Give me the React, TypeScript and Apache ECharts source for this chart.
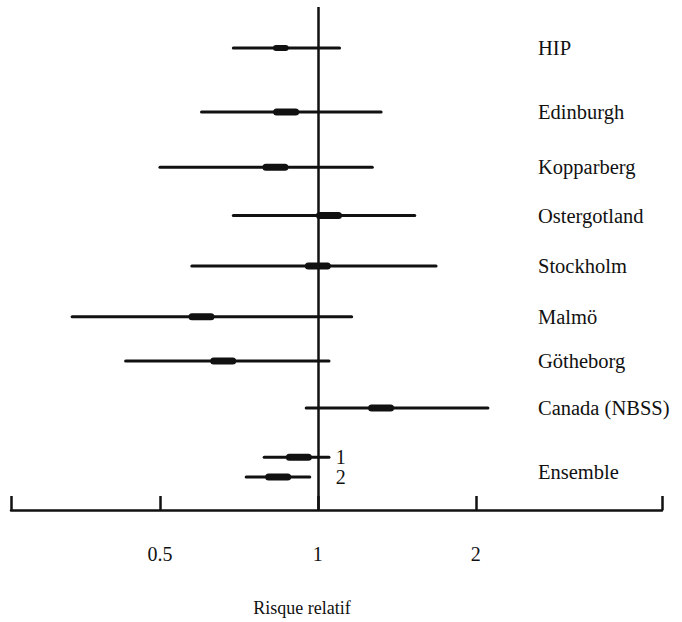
import React, { useEffect, useRef } from "react";
import * as echarts from "echarts";

// ---- data ----
const studies = ["HIP", "Edinburgh", "Kopparberg", "Ostergotland", "Stockholm", "Malmö", "Götheborg", "Canada (NBSS)"];
const studyRR = [0.85, 0.87, 0.83, 1.05, 1.0, 0.6, 0.66, 1.32];
const studyLower = [0.69, 0.6, 0.5, 0.69, 0.575, 0.34, 0.43, 0.95];
const studyUpper = [1.1, 1.32, 1.27, 1.53, 1.68, 1.16, 1.05, 2.11];
const studyWeight = [0.6, 1, 1, 1, 1, 1, 1, 1];

const pooledName = "Ensemble";
const pooledTags = ["1", "2"];
const pooledRR = [0.92, 0.84];
const pooledLower = [0.79, 0.73];
const pooledUpper = [1.05, 0.965];

const tickValues = [0.5, 1, 2];
const axisEnds = [0.26, 4.53];
const axisTitle = "Risque relatif";

// row slots (vertical order of rows)
const studySlot = [-0.3, 1, 2.12, 3.1, 4.12, 5.15, 6.05, 7];
const pooledSlot = [8.0, 8.4];
const pooledLabelSlot = 8.3;

const FONT = "Liberation Serif, Times New Roman, serif";
const INK = "#111";

export default function App() {
  const ref = useRef<HTMLDivElement>(null);
  useEffect(() => {
    if (!ref.current) return;
    const chart = echarts.init(ref.current, undefined, { renderer: "svg" });
    const lg = (v: number) => Math.log2(v);

    const rows: any[] = [];
    const tags: string[] = [];
    const weights: number[] = [];
    studies.forEach((_, i) => {
      rows.push([lg(studyLower[i]), lg(studyUpper[i]), lg(studyRR[i]), studySlot[i]]);
      tags.push("");
      weights.push(studyWeight[i]);
    });
    pooledTags.forEach((t, i) => {
      rows.push([lg(pooledLower[i]), lg(pooledUpper[i]), lg(pooledRR[i]), pooledSlot[i]]);
      tags.push(t);
      weights.push(1);
    });

    const labelSlots = [...studySlot, pooledLabelSlot];
    const labelNames = [...studies, pooledName];

    const xMin = lg(axisEnds[0]);
    const xMax = lg(axisEnds[1]);

    chart.setOption({
      animation: false,
      textStyle: { fontFamily: FONT },
      grid: { left: 11, right: 20, top: 7, bottom: 112, containLabel: false, outerBoundsMode: "none" },
      title: {
        text: axisTitle,
        left: 297,
        top: 594,
        textAlign: "center",
        textStyle: { fontFamily: FONT, fontSize: 18, fontWeight: "normal", color: INK },
      },
      xAxis: {
        type: "value",
        min: xMin,
        max: xMax,
        splitLine: { show: false },
        axisLine: { onZero: false, lineStyle: { color: INK, width: 2.5 } },
        axisTick: {
          inside: true,
          length: 14,
          customValues: [xMin, ...tickValues.map(lg), xMax],
          lineStyle: { color: INK, width: 2.5 },
        },
        axisLabel: {
          customValues: tickValues.map(lg),
          margin: 34,
          fontFamily: FONT,
          fontSize: 20,
          color: INK,
          formatter: (v: number) => String(+Math.pow(2, v).toFixed(2)),
        },
      },
      yAxis: {
        type: "value",
        inverse: true,
        min: -1.13,
        max: 9.07,
        position: "right",
        offset: -124,
        splitLine: { show: false },
        axisLine: { show: false, onZero: false },
        axisTick: { show: false },
        axisLabel: {
          customValues: labelSlots,
          margin: 0,
          align: "left",
          fontFamily: FONT,
          fontSize: 20.5,
          color: INK,
          formatter: (v: number) => {
            let best = 0;
            labelSlots.forEach((s, i) => {
              if (Math.abs(s - v) < Math.abs(labelSlots[best] - v)) best = i;
            });
            return labelNames[best];
          },
        },
      },
      series: [
        {
          type: "custom",
          coordinateSystem: "cartesian2d",
          encode: { x: [0, 1, 2], y: 3 },
          data: rows,
          silent: true,
          renderItem: (params: any, api: any) => {
            const s = api.value(3);
            const a = api.coord([api.value(0), s]);
            const b = api.coord([api.value(1), s]);
            const p = api.coord([api.value(2), s]);
            const w = 26 * weights[params.dataIndex];
            const h = 7 * (weights[params.dataIndex] < 1 ? 0.85 : 1);
            const children: any[] = [
              {
                type: "line",
                shape: { x1: a[0], y1: a[1], x2: b[0], y2: b[1] },
                style: { stroke: INK, lineWidth: 3, lineCap: "round" },
              },
              {
                type: "rect",
                shape: { x: p[0] - w / 2, y: p[1] - h / 2, width: w, height: h, r: h / 2 },
                style: { fill: INK },
              },
            ];
            const tag = tags[params.dataIndex];
            if (tag) {
              const z = api.coord([0, s]);
              children.push({
                type: "text",
                x: z[0] + 18,
                y: z[1],
                style: {
                  text: tag,
                  fontFamily: FONT,
                  fontSize: 20,
                  fill: INK,
                  verticalAlign: "middle",
                  align: "left",
                },
              });
            }
            return { type: "group", children };
          },
          markLine: {
            silent: true,
            symbol: "none",
            label: { show: false },
            lineStyle: { color: INK, width: 2.5, type: "solid" },
            data: [{ xAxis: 0 }],
          },
        },
      ],
    });
    return () => chart.dispose();
  }, []);
  return (
    <div
      ref={ref}
      style={{ position: "absolute", left: 0, top: 0, width: 682, height: 622, background: "#fff" }}
    />
  );
}
